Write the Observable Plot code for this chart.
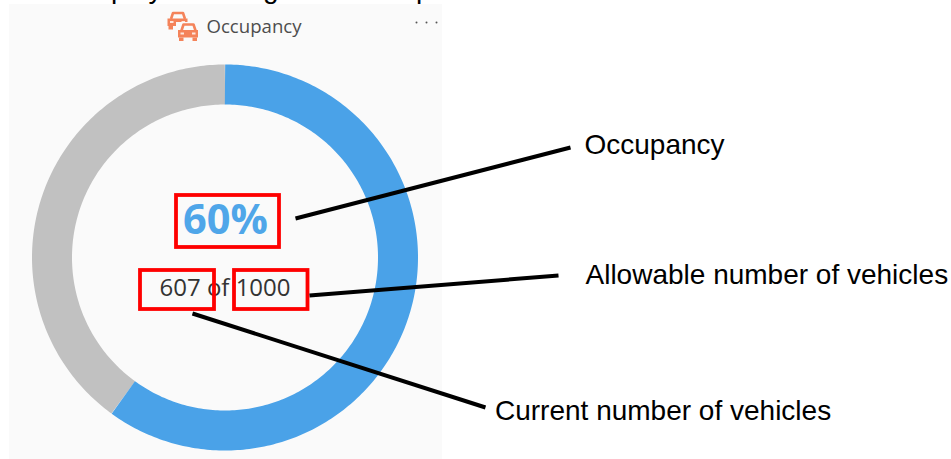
<!DOCTYPE html>
<html>
<head>
<meta charset="utf-8">
<style>html,body{margin:0;padding:0;background:#fff}svg{display:block}</style>
<script src="https://cdn.jsdelivr.net/npm/d3@7"></script>
<script src="https://cdn.jsdelivr.net/npm/@observablehq/plot@0.6"></script>
</head>
<body>
<script>
const W = 951, H = 459;
const occupancyShare = 60;
const currentVehicles = 607;
const allowedVehicles = 1000;
const ringCenter = {x: 224.5, y: 257};
const ringRadius = 173;
const panels = [{x1: 9, x2: 442, y1: 4, y2: 459}];
const redBoxes = [
  {x1: 176, x2: 279, y1: 195, y2: 247},
  {x1: 140, x2: 214, y1: 270, y2: 309},
  {x1: 234, x2: 307.5, y1: 270, y2: 309}
];
const leaders = [
  [{x: 295, y: 218}, {x: 570, y: 147}],
  [{x: 309, y: 295}, {x: 558, y: 275}],
  [{x: 192, y: 313}, {x: 485, y: 407}]
];
const callouts = [
  {x: 584, y: 145, t: "Occupancy"},
  {x: 585, y: 275, t: "Allowable number of vehicles"},
  {x: 494.5, y: 411, t: "Current number of vehicles"}
];
const clipped = [{x: 162, t: "display"}, {x: 278, t: "g"}, {x: 431, t: "p"}];
const dots = [416, 426, 436];
const carOffsets = [{dx: 167.5, dy: 11.5}, {dx: 178, dy: 23}];
const orange = "#f4835a";

function arc(from, to) {
  const pts = [];
  for (let p = from; p <= to + 1e-9; p += 0.25) {
    const a = p / 100 * 2 * Math.PI;
    pts.push({x: ringCenter.x + ringRadius * Math.sin(a), y: ringCenter.y - ringRadius * Math.cos(a)});
  }
  return pts;
}

// car icon, unit shape in local coordinates
const carCabin = [{x: 3, y: 7}, {x: 5, y: 1}, {x: 15, y: 1}, {x: 17, y: 7}];
const carBody = {x1: 0, x2: 20, y1: 7, y2: 14.5};
const carWheels = [{x1: 1, x2: 5.5, y1: 14.5, y2: 18}, {x1: 14.5, x2: 19, y1: 14.5, y2: 18}];
const carLights = [{x1: 2.5, x2: 6, y1: 9.5, y2: 11.5}, {x1: 14, x2: 17.5, y1: 9.5, y2: 11.5}];

function car({dx, dy}, halo) {
  const move = (r) => ({x1: r.x1 + dx, x2: r.x2 + dx, y1: r.y1 + dy, y2: r.y2 + dy});
  const cabin = carCabin.map((p) => ({x: p.x + dx, y: p.y + dy}));
  const rectOpts = {x1: "x1", x2: "x2", y1: "y1", y2: "y2"};
  const marks = [];
  if (halo) {
    marks.push(Plot.rect([move({x1: -2, x2: 22, y1: -1, y2: 20})], {...rectOpts, fill: "#fafafa"}));
  }
  marks.push(
    Plot.line(cabin, {x: "x", y: "y", stroke: orange, strokeWidth: 2.6, curve: "linear", strokeLinecap: "butt"}),
    Plot.rect([move(carBody), ...carWheels.map(move)], {...rectOpts, fill: orange, inset: 0}),
    Plot.rect(carLights.map(move), {...rectOpts, fill: "#fde6dc", inset: 0})
  );
  return marks;
}

const chart = Plot.plot({
  width: W, height: H,
  margin: 0,
  x: {domain: [0, W], range: [0, W], axis: null},
  y: {domain: [0, H], range: [0, H], axis: null},
  style: {background: "#fff", overflow: "hidden"},
  marks: [
    Plot.rect(panels, {x1: "x1", x2: "x2", y1: "y1", y2: "y2", fill: "#fafafa"}),
    Plot.text(clipped, {x: "x", y: () => -3, text: "t", textAnchor: "end", lineAnchor: "bottom",
      fontFamily: "Liberation Sans", fontSize: 28, fill: "#000"}),
    Plot.line(arc(occupancyShare, 100), {x: "x", y: "y", stroke: "#c1c1c1", strokeWidth: 40, strokeLinecap: "butt", curve: "linear"}),
    Plot.line(arc(0, occupancyShare), {x: "x", y: "y", stroke: "#4aa2e8", strokeWidth: 40, strokeLinecap: "butt", curve: "linear"}),
    ...car(carOffsets[0], false),
    ...car(carOffsets[1], true),
    Plot.text([{x: 206, y: 27, t: "Occupancy"}], {x: "x", y: "y", text: "t", textAnchor: "start",
      fontFamily: "Open Sans", fontSize: 18.6, fill: "#4d4d4d"}),
    Plot.dot(dots.map((x) => ({x, y: 22})), {x: "x", y: "y", r: 1, fill: "#555"}),
    Plot.text([{x: 225, y: 220, t: `${occupancyShare}%`}], {x: "x", y: "y", text: "t", textAnchor: "middle",
      fontFamily: "Open Sans", fontWeight: 700, fontSize: 41.5, fill: "#4fa6e9"}),
    Plot.text([{x: 224.5, y: 288, t: `${currentVehicles} of ${allowedVehicles}`}], {x: "x", y: "y", text: "t", textAnchor: "middle",
      fontFamily: "Open Sans", fontSize: 24, fill: "#333"}),
    Plot.rect(redBoxes, {x1: "x1", x2: "x2", y1: "y1", y2: "y2", fill: "none", stroke: "#fe0000", strokeWidth: 3.8}),
    ...leaders.map((l) => Plot.line(l, {x: "x", y: "y", stroke: "#000", strokeWidth: 4, strokeLinecap: "butt"})),
    Plot.text(callouts, {x: "x", y: "y", text: "t", textAnchor: "start",
      fontFamily: "Liberation Sans", fontSize: 28, fill: "#000"})
  ]
});
document.body.appendChild(chart);
</script>
</body>
</html>
